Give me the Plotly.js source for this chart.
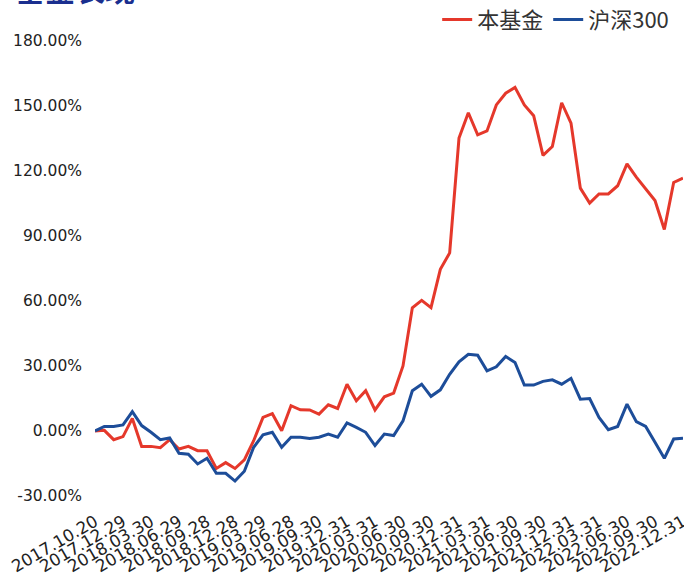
<!DOCTYPE html>
<html>
<head>
<meta charset="utf-8">
<script src="https://cdn.plot.ly/plotly-3.0.1.min.js"></script>
<style>html,body{margin:0;padding:0;background:#fff;}#chart{width:684px;height:576px;}</style>
</head>
<body>
<div id="chart"></div>
<script>
const dates = [
  "2017.10.20","2017.10.31","2017.11.30","2017.12.29",
  "2018.01.31","2018.02.28","2018.03.30","2018.04.27","2018.05.31","2018.06.29","2018.07.31","2018.08.31","2018.09.28","2018.10.31","2018.11.30","2018.12.28",
  "2019.01.31","2019.02.28","2019.03.29","2019.04.30","2019.05.31","2019.06.28","2019.07.31","2019.08.30","2019.09.30","2019.10.31","2019.11.29","2019.12.31",
  "2020.01.23","2020.02.28","2020.03.31","2020.04.30","2020.05.29","2020.06.30","2020.07.31","2020.08.31","2020.09.30","2020.10.30","2020.11.30","2020.12.31",
  "2021.01.29","2021.02.26","2021.03.31","2021.04.30","2021.05.31","2021.06.30","2021.07.30","2021.08.31","2021.09.30","2021.10.29","2021.11.30","2021.12.31",
  "2022.01.28","2022.02.28","2022.03.31","2022.04.29","2022.05.31","2022.06.30","2022.07.29","2022.08.31","2022.09.30","2022.10.31","2022.11.30","2022.12.31"
];
const tickLabels = [
  "2017.10.20","2017.12.29","2018.03.30","2018.06.29","2018.09.28","2018.12.28",
  "2019.03.29","2019.06.28","2019.09.30","2019.12.31","2020.03.31","2020.06.30",
  "2020.09.30","2020.12.31","2021.03.31","2021.06.30","2021.09.30","2021.12.31",
  "2022.03.31","2022.06.30","2022.09.30","2022.12.31"
];
// cumulative return, %
const fund = [
  0, 0.3, -4.0, -2.6, 5.8, -7.1, -7.1, -7.7, -4.0, -8.3, -7.1, -9.1, -9.1, -17.3, -14.6, -17.3,
  -13.3, -4.5, 6.3, 8.0, 0.1, 11.7, 9.8, 9.7, 7.8, 12.1, 10.4, 21.6,
  14.0, 18.6, 9.7, 15.8, 17.5, 30.0, 56.9, 60.3, 56.9, 74.6, 82.2, 135.2,
  146.9, 136.7, 138.5, 150.5, 155.9, 158.6, 150.5, 145.5, 127.2, 131.3, 151.5, 142.1,
  112.1, 105.2, 109.4, 109.4, 113.2, 123.3, 117.2, 111.7, 106.4, 93.0, 114.7, 116.7
];
const hs300 = [
  0, 2.1, 2.1, 2.8, 8.9, 2.5, -0.6, -4.0, -3.2, -10.3, -10.7, -15.2, -12.6, -19.5, -19.5, -23.1,
  -18.6, -7.5, -1.8, -0.6, -7.5, -2.9, -2.9, -3.4, -2.9, -1.4, -2.9, 3.7,
  1.7, -0.6, -6.7, -1.4, -2.1, 4.7, 18.6, 21.6, 16.0, 19.0, 26.2, 31.9,
  35.4, 35.0, 27.8, 29.6, 34.4, 31.6, 21.2, 21.2, 22.9, 23.6, 21.6, 24.3,
  14.7, 15.0, 6.3, 0.6, 2.1, 12.4, 4.3, 2.1, -5.2, -12.6, -3.7, -3.4
];
const yTicks = [-30, 0, 30, 60, 90, 120, 150, 180];
const seriesNames = ["本基金", "沪深300"];
const titleText = "基金表现";

const traces = [
  {x: dates, y: fund, name: seriesNames[0], type: "scatter", mode: "lines",
   line: {color: "#e5382b", width: 3}},
  {x: dates, y: hs300, name: seriesNames[1], type: "scatter", mode: "lines",
   line: {color: "#1d4d99", width: 3}}
];

const layout = {
  width: 684, height: 576,
  margin: {l: 95, r: 1, t: 41, b: 80, autoexpand: false},
  paper_bgcolor: "#fff", plot_bgcolor: "#fff",
  showlegend: true,
  legend: {orientation: "h", x: 0.985, xanchor: "right", y: 1.047, yanchor: "middle",
           font: {family: "Noto Sans CJK SC, DejaVu Sans", size: 22, color: "#333"},
           bgcolor: "rgba(0,0,0,0)"},
  xaxis: {type: "category", range: [0, 63], showgrid: false, zeroline: false, showline: false,
          tickmode: "array", tickvals: tickLabels, ticktext: tickLabels, tickangle: -30,
          ticks: "", ticklabelstandoff: 12,
          tickfont: {family: "DejaVu Sans", size: 16.8, color: "#222"}, automargin: false},
  yaxis: {range: [-30, 180], showgrid: false, zeroline: false, showline: false,
          tickmode: "array", tickvals: yTicks, ticktext: yTicks.map(v => v.toFixed(2) + "%"),
          ticks: "", ticklabelstandoff: 12,
          tickfont: {family: "DejaVu Sans", size: 15.5, color: "#222"}, automargin: false},
  annotations: [{text: "<b>" + titleText + "</b>", xref: "paper", yref: "paper",
                 x: -0.14, xanchor: "left", y: 1.064, yanchor: "bottom", showarrow: false,
                 font: {family: "Noto Sans CJK SC", size: 30, color: "#1a2f8f"}}]
};

Plotly.newPlot("chart", traces, layout, {displayModeBar: false, staticPlot: true});
</script>
</body>
</html>
